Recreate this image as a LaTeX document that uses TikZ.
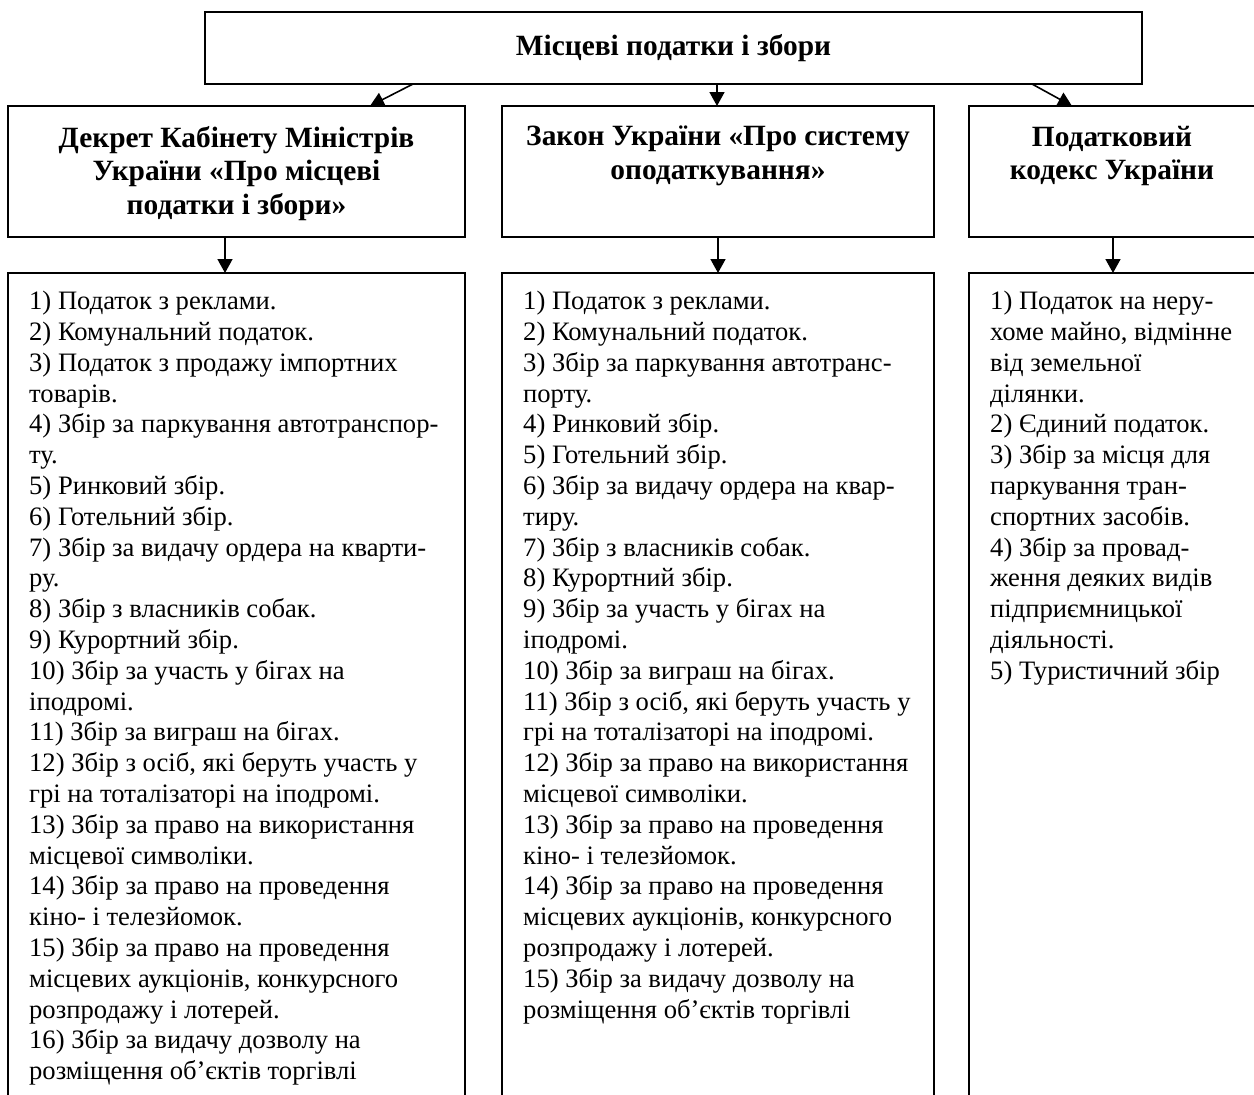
\documentclass[tikz,border=0pt]{standalone}
\usepackage{fontspec}
\setmainfont{Liberation Serif}
\usetikzlibrary{arrows.meta}
\begin{document}
\begin{tikzpicture}[x=1pt,y=-1pt,
  box/.style={draw, line width=1.9pt, inner sep=0pt},
  arr/.style={line width=1.6pt, -{Triangle[width=15pt,length=14pt]}},
  head/.style={font=\fontsize{29.4}{33.5}\selectfont\bfseries, align=center, inner sep=0pt},
  listtext/.style={font=\fontsize{26.6}{30.8}\selectfont, align=left, inner sep=0pt, anchor=north west},
  openbox/.style={line width=1.9pt}]
\useasboundingbox (0,0) rectangle (1254,1095);

% top box
\node[box, head, minimum width=937pt, minimum height=72pt] (top) at (673.5,48) {Місцеві податки і збори};

% header boxes
\node[box, minimum width=457pt, minimum height=131pt] (hL) at (236.5,171.5) {};
\node[box, minimum width=432pt, minimum height=131pt] (hM) at (718,171.5) {};
\node[box, minimum width=286pt, minimum height=131pt] (hR) at (1112,171.5) {};

\node[head, anchor=north] (tL) at (236.5,126) {Декрет Кабінету Міністрів\\України «Про місцеві\\податки і збори»};
\node[head, anchor=north] (tM) at (718,126) {Закон України «Про систему\\оподаткування»};
\node[head, anchor=north] (tR) at (1112,126) {Податковий\\кодекс України};

% open list boxes
\draw[openbox] (8,1100) -- (8,273) -- (465,273) -- (465,1100);
\draw[openbox] (502,1100) -- (502,273) -- (934,273) -- (934,1100);
\draw[openbox] (969,1100) -- (969,273) -- (1256,273);

% connector end points
\coordinate (s1) at (413,84);
\coordinate (e1) at (370,106);
\coordinate (s2) at (717,84);
\coordinate (e2) at (717,106);
\coordinate (s3) at (1032,84);
\coordinate (e3) at (1072,106);
\coordinate (s4) at (225,237);
\coordinate (e4) at (225,273);
\coordinate (s5) at (718,237);
\coordinate (e5) at (718,273);
\coordinate (s6) at (1113,237);
\coordinate (e6) at (1113,273);

\draw[arr] (s1) -- (e1);
\draw[arr] (s2) -- (e2);
\draw[arr] (s3) -- (e3);
\draw[arr] (s4) -- (e4);
\draw[arr] (s5) -- (e5);
\draw[arr] (s6) -- (e6);

% lists
\node[listtext] (lL) at (29,291) {1) Податок з реклами.\\
2) Комунальний податок.\\
3) Податок з продажу імпортних\\
товарів.\\
4) Збір за паркування автотранспор-\\
ту.\\
5) Ринковий збір.\\
6) Готельний збір.\\
7) Збір за видачу ордера на кварти-\\
ру.\\
8) Збір з власників собак.\\
9) Курортний збір.\\
10) Збір за участь у бігах на\\
іподромі.\\
11) Збір за виграш на бігах.\\
12) Збір з осіб, які беруть участь у\\
грі на тоталізаторі на іподромі.\\
13) Збір за право на використання\\
місцевої символіки.\\
14) Збір за право на проведення\\
кіно- і телезйомок.\\
15) Збір за право на проведення\\
місцевих аукціонів, конкурсного\\
розпродажу і лотерей.\\
16) Збір за видачу дозволу на\\
розміщення об’єктів торгівлі};

\node[listtext] (lM) at (523,291) {1) Податок з реклами.\\
2) Комунальний податок.\\
3) Збір за паркування автотранс-\\
порту.\\
4) Ринковий збір.\\
5) Готельний збір.\\
6) Збір за видачу ордера на квар-\\
тиру.\\
7) Збір з власників собак.\\
8) Курортний збір.\\
9) Збір за участь у бігах на\\
іподромі.\\
10) Збір за виграш на бігах.\\
11) Збір з осіб, які беруть участь у\\
грі на тоталізаторі на іподромі.\\
12) Збір за право на використання\\
місцевої символіки.\\
13) Збір за право на проведення\\
кіно- і телезйомок.\\
14) Збір за право на проведення\\
місцевих аукціонів, конкурсного\\
розпродажу і лотерей.\\
15) Збір за видачу дозволу на\\
розміщення об’єктів торгівлі};

\node[listtext] (lR) at (990,291) {1) Податок на неру-\\
хоме майно, відмінне\\
від земельної\\
ділянки.\\
2) Єдиний податок.\\
3) Збір за місця для\\
паркування тран-\\
спортних засобів.\\
4) Збір за провад-\\
ження деяких видів\\
підприємницької\\
діяльності.\\
5) Туристичний збір};
\end{tikzpicture}
\end{document}
